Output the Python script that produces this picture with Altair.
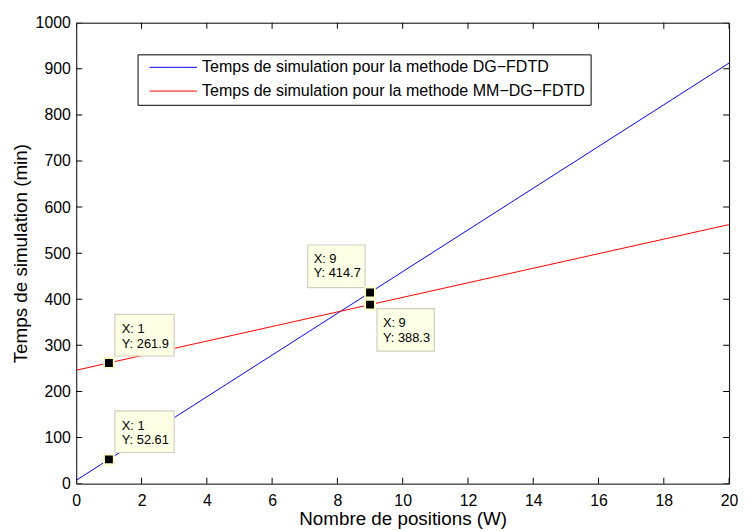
import altair as alt
import pandas as pd

# ---- data ----
x_vals = [0, 1, 9, 20]
dg_fdtd = [7.3, 52.61, 414.7, 912.5]
mm_dg_fdtd = [246.1, 261.9, 388.3, 562.1]
series_names = [
    "Temps de simulation pour la methode DG\u2212FDTD",
    "Temps de simulation pour la methode MM\u2212DG\u2212FDTD",
]
series_colors = ["#0000ff", "#ff0000"]

tip_x = [1, 1, 9, 9]
tip_y_text = ["52.61", "261.9", "414.7", "388.3"]
tip_place = ["upper right", "upper right", "upper left", "lower right"]

x_ticks = list(range(0, 21, 2))
y_ticks = list(range(0, 1001, 100))
x_domain = [0, 20]
y_domain = [0, 1000]

FONT = "Liberation Sans"
W, H = 660, 466

rows = []
for name, vals in zip(series_names, [dg_fdtd, mm_dg_fdtd]):
    for xv, yv in zip(x_vals, vals):
        rows.append({"x": xv, "y": yv, "serie": name})
df = pd.DataFrame(rows)

tips = pd.DataFrame({
    "x": tip_x,
    "y": [float(v) for v in tip_y_text],
    "label": [f"X: {a}\nY: {b}" for a, b in zip(tip_x, tip_y_text)],
    "place": tip_place,
})

# inward tick marks on all four sides (positions are the tick values)
xt = pd.DataFrame([{"x": v, "y": e} for e in y_domain for v in x_ticks])
yt = pd.DataFrame([{"x": e, "y": v} for e in x_domain for v in y_ticks])

xs = alt.Scale(domain=x_domain, nice=False, zero=False)
ys = alt.Scale(domain=y_domain, nice=False, zero=False)

axis_common = dict(grid=False, domain=False, ticks=False, format="d",
                   labelFont=FONT, labelColor="black", labelFontSize=16, labelFlush=False,
                   titleFont=FONT, titleColor="black", titleFontWeight="normal",
                   titleFontSize=19)
AX = alt.Axis(orient="bottom", values=x_ticks, labelPadding=9,
              title="Nombre de positions (W)", titlePadding=1, **axis_common)
AY = alt.Axis(orient="left", values=y_ticks, labelPadding=6,
              title="Temps de simulation (min)", titlePadding=5, **axis_common)


def X():
    return alt.X("x:Q", scale=xs, axis=AX)


def Y():
    return alt.Y("y:Q", scale=ys, axis=AY)


lines = alt.Chart(df).mark_line(strokeWidth=1, clip=True).encode(
    x=X(), y=Y(),
    color=alt.Color("serie:N", scale=alt.Scale(domain=series_names, range=series_colors),
                    legend=alt.Legend(
                        title=None, orient="none", legendX=62, legendY=32,
                        symbolType="M-4,0H4", symbolSize=144, symbolStrokeWidth=1,
                        symbolOffset=23, labelOffset=21,
                        labelFont=FONT, labelFontSize=16.2, labelColor="black", labelLimit=0,
                        strokeColor="black", fillColor="white", padding=5, rowPadding=7)),
)

xticks_layer = alt.Chart(xt).mark_tick(orient="vertical", size=12, thickness=1,
                                       color="black", clip=True, opacity=1).encode(x=X(), y=Y())
yticks_layer = alt.Chart(yt).mark_tick(orient="horizontal", size=12, thickness=1,
                                       color="black", clip=True, opacity=1).encode(x=X(), y=Y())

place_cfg = {
    "upper right": dict(box=(6, 66, -49, -7), text=(13, -34)),
    "upper left": dict(box=(-63, -5, -48, -5), text=(-57, -34)),
    "lower right": dict(box=(7, 65, 4, 47), text=(13, 19)),
}

ann_layers = []
for place, cfg in place_cfg.items():
    x0, x1, y0, y1 = cfg["box"]
    tdx, tdy = cfg["text"]
    base = alt.Chart(tips).transform_filter(alt.datum.place == place)
    box = base.mark_rect(fill="#ffffe6", stroke="#cfcfc2", strokeWidth=1.2,
                         xOffset=x0, x2Offset=x1, yOffset=y0, y2Offset=y1).encode(
        x=X(), x2=alt.X2("x"), y=Y(), y2=alt.Y2("y"))
    txt = base.mark_text(align="left", baseline="middle", lineBreak="\n", lineHeight=14.5,
                         font=FONT, fontSize=13, color="black", dx=tdx, dy=tdy).encode(
        x=X(), y=Y(), text="label:N")
    ann_layers += [box, txt]

markers = alt.Chart(tips).mark_square(size=100, color="black", stroke="#ffffc8",
                                      strokeWidth=2, opacity=1).encode(x=X(), y=Y())

chart = alt.layer(lines, xticks_layer, yticks_layer, *ann_layers, markers).properties(
    width=W, height=H,
    autosize=alt.AutoSizeParams(type="none"),
    padding={"left": 69, "top": 12, "right": 9, "bottom": 45},
    background="white",
).configure_view(stroke="black", strokeWidth=1)

chart.save("out.html", embed_options={"renderer": "svg", "actions": False})
